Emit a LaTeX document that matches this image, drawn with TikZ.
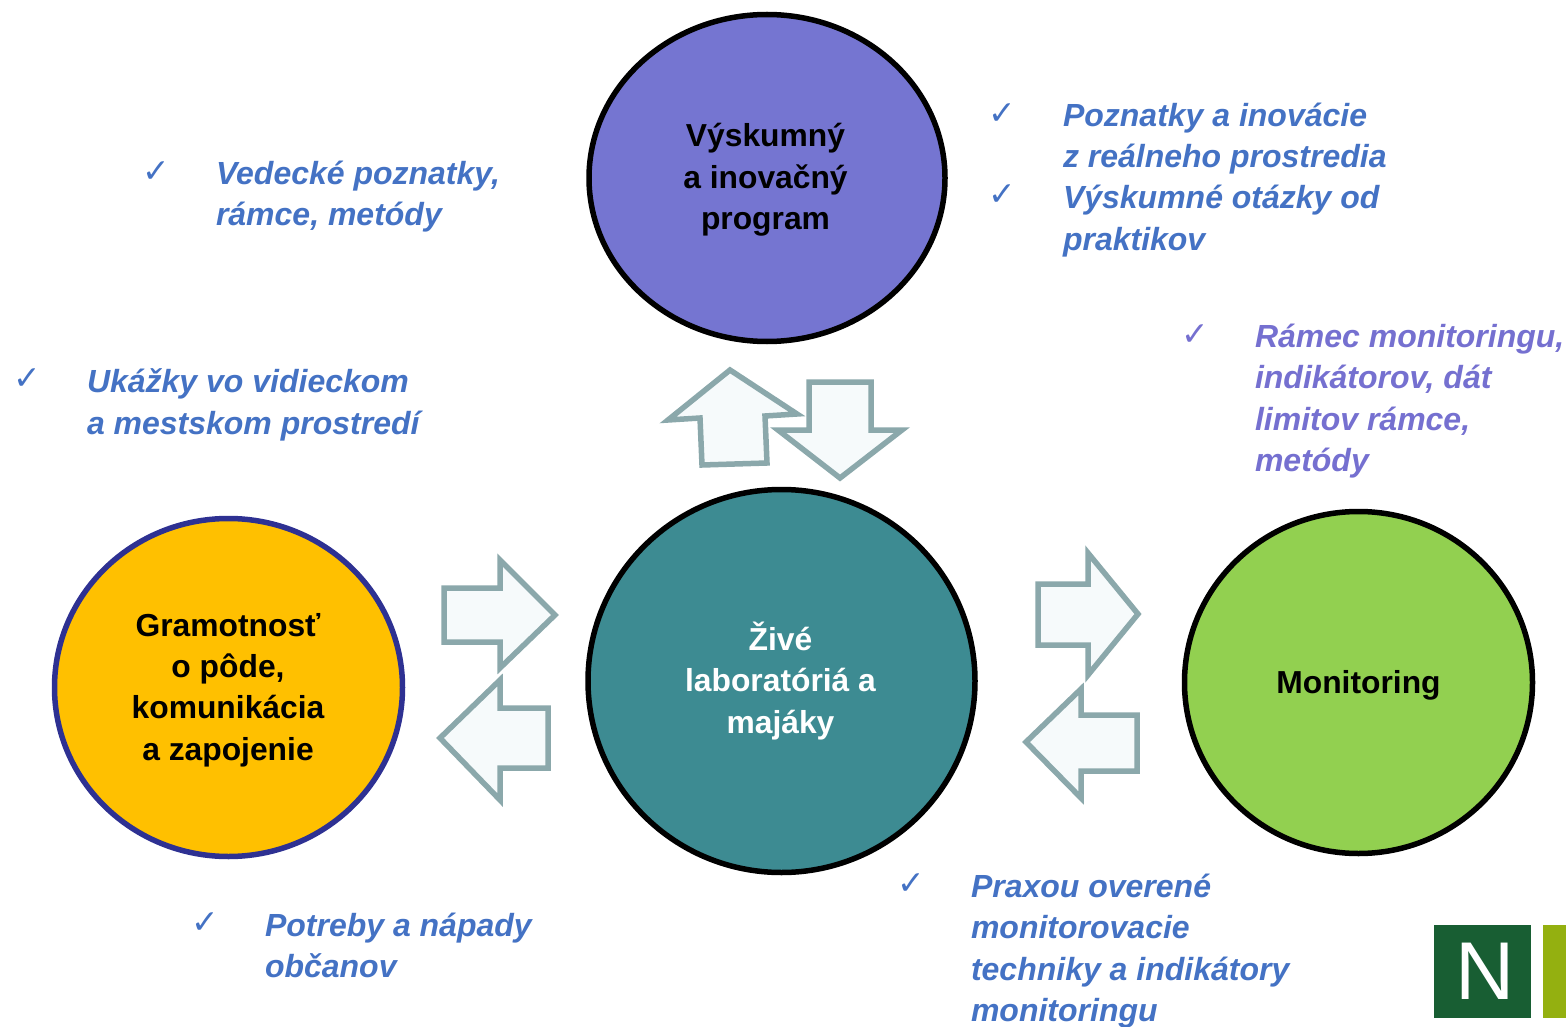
\documentclass[tikz,border=0pt]{standalone}
\usepackage{fontspec}
\setmainfont{Liberation Sans}
\newfontfamily\checkfont{DejaVu Sans}
\usetikzlibrary{shapes.geometric}
\definecolor{txtblue}{HTML}{4472C4}
\definecolor{txtviolet}{HTML}{7570D0}
\definecolor{arrowedge}{HTML}{8BA8AB}
\definecolor{arrowfill}{HTML}{F6FAFB}
\definecolor{cviolet}{RGB}{117,117,209}
\definecolor{cteal}{RGB}{61,139,146}
\definecolor{cnavy}{RGB}{46,49,146}
\definecolor{cgold}{RGB}{255,192,0}
\definecolor{cgreen}{RGB}{146,208,80}
\definecolor{logodark}{RGB}{24,94,51}
\definecolor{logolight}{RGB}{148,176,16}
\tikzset{
  circ/.style={ellipse,draw=black,line width=5.5pt,inner sep=0pt,outer sep=0pt},
  circtext/.style={inner sep=0pt,outer sep=0pt,align=center,
    font=\fontsize{31.8}{41.3}\selectfont\bfseries},
  note/.style={anchor=north west,inner sep=0pt,outer sep=0pt,align=left,text=txtblue,
    font=\fontsize{32}{41.3}\selectfont\bfseries\itshape},
  tick/.style={anchor=center,inner sep=0pt,outer sep=0pt,text=txtblue,
    font=\fontsize{33}{33}\selectfont\checkfont},
  blockarrow/.style={draw=arrowedge,fill=arrowfill,line width=5.5pt,miter limit=10},
}
\begin{document}
\begin{tikzpicture}[x=1pt,y=-1pt]
\useasboundingbox (0,0) rectangle (1566,1027);
% block arrows
\draw[blockarrow] (730,370)--(797,414)--(765,416)--(767,463)--(702,465)--(700,418)--(668,420)--cycle;
\draw[blockarrow] (809,382)--(871,382)--(871,430)--(902,430)--(840,478)--(778,430)--(809,430)--cycle;
\draw[blockarrow] (444,588)--(500,588)--(500,560)--(555,615)--(500,668)--(500,642)--(444,642)--cycle;
\draw[blockarrow] (440,738)--(500,680)--(500,708)--(548,708)--(548,768)--(500,768)--(500,800)--cycle;
\draw[blockarrow] (1038,584)--(1088,584)--(1088,553)--(1138,614)--(1088,675)--(1088,645)--(1038,645)--cycle;
\draw[blockarrow] (1026,742)--(1081,689)--(1081,715)--(1137,715)--(1137,771)--(1081,771)--(1081,798)--cycle;
% circles
\node[circ,fill=cviolet,minimum width=356pt,minimum height=327pt,
  label={[circtext,xshift=-1.5pt,yshift=-2pt]center:{Výskumný\\a inovačný\\program}}] (vyskum) at (767,178) {};
\node[circ,fill=cteal,minimum width=387pt,minimum height=383pt,
  label={[circtext,text=white,xshift=-1pt]center:{Živé\\laboratóriá a\\majáky}}] (labs) at (781.5,681) {};
\node[circ,draw=cnavy,fill=cgold,minimum width=348pt,minimum height=338pt,
  label={[circtext,xshift=-0.5pt,yshift=-2.5pt]center:{Gramotnosť\\o pôde,\\komunikácia\\a zapojenie}}] (gram) at (228.5,687.5) {};
\node[circ,fill=cgreen,minimum width=348pt,minimum height=342pt,
  label={[circtext,yshift=-2.5pt]center:{Monitoring}}] (moni) at (1358.5,682.5) {};
% notes
\node[tick] (t1) at (156,172.5) {✓};
\node[note] (n1) at (216,161) {Vedecké poznatky,\\rámce, metódy};
\node[tick] (t2) at (1002,114.5) {✓};
\node[note] (n2) at (1063,103) {Poznatky a inovácie\\z reálneho prostredia};
\node[tick] (t3) at (1002,195.5) {✓};
\node[note] (n3) at (1063,185.5) {Výskumné otázky od\\praktikov};
\node[tick] (t4) at (27,379.5) {✓};
\node[note] (n4) at (87,369) {Ukážky vo vidieckom\\a mestskom prostredí};
\node[tick,text=txtviolet] (t5) at (1195,335.5) {✓};
\node[note,text=txtviolet] (n5) at (1255,324) {Rámec monitoringu,\\indikátorov, dát\\limitov rámce,\\metódy};
\node[tick] (t6) at (205,923.5) {✓};
\node[note] (n6) at (265,913) {Potreby a nápady\\občanov};
\node[tick] (t7) at (911,884.5) {✓};
\node[note] (n7) at (971,874) {Praxou overené\\monitorovacie\\techniky a indikátory\\monitoringu};
% logo
\fill[logodark] (1434,925) rectangle (1531,1018);
\fill[logolight] (1543,925) rectangle (1566,1018);
\node[inner sep=0pt,outer sep=0pt,text=white,font=\fontsize{82}{82}\selectfont] (logo) at (1485.5,971.5) {N};
\end{tikzpicture}
\end{document}
